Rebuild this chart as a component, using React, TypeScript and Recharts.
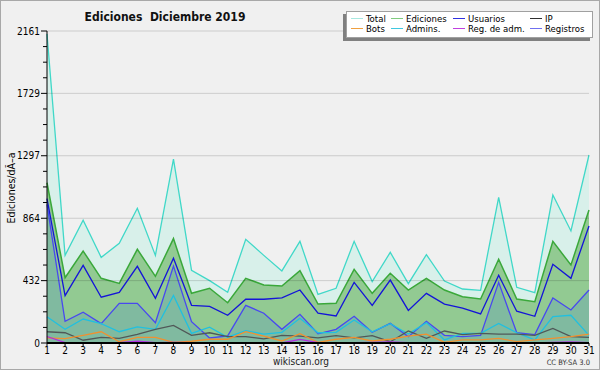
import React from 'react';
import {
  ComposedChart,
  Area,
  Line,
  XAxis,
  YAxis,
  ReferenceLine,
} from 'recharts';

// days of December 2019
const days = [
  1, 2, 3, 4, 5, 6, 7, 8, 9, 10, 11, 12, 13, 14, 15, 16, 17, 18, 19, 20, 21, 22, 23, 24, 25, 26,
  27, 28, 29, 30, 31,
];

const total = [
  2140, 607, 850, 593, 690, 933, 607, 1274, 503, 432, 351, 718, 607, 499, 704, 337, 379, 704, 425,
  628, 411, 612, 429, 374, 365, 1009, 386, 349, 1025, 776, 1302,
];
const ediciones = [
  1110, 452, 637, 448, 413, 649, 462, 723, 344, 379, 279, 448, 402, 395, 501, 270, 275, 510, 344,
  483, 367, 448, 367, 321, 305, 580, 305, 286, 704, 540, 921,
];
const usuarios = [
  1000, 328, 538, 317, 351, 531, 310, 587, 261, 254, 192, 303, 303, 312, 367, 206, 187, 420, 261,
  436, 226, 344, 270, 242, 201, 469, 220, 185, 545, 448, 810,
];
const registros = [
  960, 150, 213, 134, 275, 275, 141, 533, 148, 35, 50, 261, 206, 95, 199, 64, 95, 185, 74, 136, 44,
  150, 53, 44, 53, 420, 71, 58, 312, 229, 367,
];
const admins = [
  182, 95, 166, 134, 78, 111, 95, 330, 67, 110, 40, 85, 62, 74, 171, 71, 74, 159, 78, 134, 62, 141,
  21, 67, 67, 136, 71, 21, 182, 192, 53,
];
const ip = [
  78, 71, 19, 39, 32, 60, 95, 122, 53, 71, 44, 44, 28, 53, 48, 35, 51, 35, 51, 9, 83, 32, 83, 58,
  67, 62, 62, 53, 101, 44, 39,
];
const bots = [
  35, 30, 53, 78, 9, 39, 39, 5, 12, 26, 26, 78, 48, 14, 65, 5, 26, 39, 14, 26, 48, 62, 5, 21, 21, 32,
  9, 21, 32, 44, 62,
];
const regAdm = [
  45, 2, 0, 0, 3, 12, 2, 5, 3, 2, 2, 0, 0, 0, 25, 2, 0, 2, 5, 8, 2, 2, 0, 0, 0, 2, 0, 0, 5, 8, 3,
];

const yMax = 2161;
const yTicks = [
  0, 108, 216, 324, 432, 540, 648, 756, 864, 973, 1081, 1189, 1297, 1405, 1513, 1621, 1729, 1837,
  1945, 2053, 2161,
];
const yMajor = [0, 432, 864, 1297, 1729, 2161];

const legendItems = [
  { name: 'Total', color: '#a8e8e0' },
  { name: 'Ediciones', color: '#80cc80' },
  { name: 'Usuarios', color: '#3030e0' },
  { name: 'IP', color: '#303030' },
  { name: 'Bots', color: '#f0a040' },
  { name: 'Admins.', color: '#40c8e0' },
  { name: 'Reg. de adm.', color: '#c040e0' },
  { name: 'Registros', color: '#7070f0' },
];
const legendCols = [4, 44, 106, 183];

const data = days.map((d, i) => ({
  day: d,
  total: total[i],
  ediciones: ediciones[i],
  usuarios: usuarios[i],
  registros: registros[i],
  admins: admins[i],
  ip: ip[i],
  bots: bots[i],
  regAdm: regAdm[i],
}));

const font = '"DejaVu Sans Condensed", "DejaVu Sans", sans-serif';

function YTick(props: any) {
  const { x, y, payload } = props;
  const major = yMajor.includes(payload.value);
  return (
    <g>
      <line x1={x - (major ? 6 : 4)} x2={x} y1={y} y2={y} stroke="#000" strokeWidth={1} />
      {major && (
        <text x={x - 7} y={y} dy={3.5} textAnchor="end" fontSize={10} fill="#000" fontFamily={font}>
          {payload.value}
        </text>
      )}
    </g>
  );
}

export default function App() {
  return (
    <div
      style={{
        position: 'absolute',
        left: 0,
        top: 0,
        width: 600,
        height: 370,
        background: '#f0f0f0',
        border: '1px solid #a8a8a8',
        boxSizing: 'border-box',
        fontFamily: font,
      }}
    >
      <div
        style={{
          position: 'absolute',
          left: 0,
          width: 328,
          textAlign: 'center',
          fontWeight: 'bold',
          fontSize: 12,
          top: 9,
          color: '#111',
          whiteSpace: 'pre',
        }}
      >
        {'Ediciones  Diciembre 2019'}
      </div>
      <div style={{ position: 'absolute', left: -1, top: -1 }}>
        <ComposedChart
          width={600}
          height={370}
          data={data}
          margin={{ top: 31, right: 11, bottom: 0, left: 0 }}
        >
          <XAxis
            dataKey="day"
            type="number"
            domain={[1, 31]}
            ticks={days}
            interval={0}
            tickSize={3}
            tickMargin={1}
            axisLine={{ stroke: '#000', strokeWidth: 2 }}
            tickLine={{ stroke: '#000' }}
            tick={{ fill: '#000', fontSize: 10, fontFamily: font }}
            height={27}
          />
          <YAxis
            type="number"
            domain={[0, yMax]}
            ticks={yTicks}
            interval={0}
            width={47}
            tickSize={0}
            tickMargin={0}
            tickLine={false}
            axisLine={{ stroke: '#000' }}
            tick={<YTick />}
          />
          <Area
            type="linear"
            dataKey="total"
            stroke="#40d8c8"
            strokeWidth={1.3}
            fill="#d8f0ea"
            fillOpacity={1}
            isAnimationActive={false}
          />
          <Area
            type="linear"
            dataKey="ediciones"
            stroke="#3aa83a"
            strokeWidth={1.5}
            fill="#92ca92"
            fillOpacity={1}
            isAnimationActive={false}
          />
          <Area
            type="linear"
            dataKey="registros"
            stroke="#4848f0"
            strokeWidth={1.3}
            fill="#80baa0"
            fillOpacity={1}
            isAnimationActive={false}
          />
          {yMajor.slice(1).map((v) => (
            <ReferenceLine key={v} y={v} stroke="rgba(0,0,0,0.15)" strokeWidth={1} />
          ))}
          <Line type="linear" dataKey="usuarios" stroke="#1414d8" strokeWidth={1.3} dot={false} isAnimationActive={false} />
          <Line type="linear" dataKey="admins" stroke="#20c0e0" strokeWidth={1.3} dot={false} isAnimationActive={false} />
          <Line type="linear" dataKey="ip" stroke="#505858" strokeWidth={1.3} dot={false} isAnimationActive={false} />
          <Line type="linear" dataKey="bots" stroke="#f09030" strokeWidth={1.3} dot={false} isAnimationActive={false} />
          <Line type="linear" dataKey="regAdm" stroke="#b030e0" strokeWidth={1.3} dot={false} isAnimationActive={false} />
        </ComposedChart>
      </div>
      <div
        style={{
          position: 'absolute',
          left: 10 - 60,
          top: 188 - 7,
          width: 120,
          textAlign: 'center',
          fontSize: 10.5,
          transform: 'rotate(-90deg)',
          color: '#000',
          whiteSpace: 'nowrap',
        }}
      >
        Ediciones/dÃ–a
      </div>
      {/* legend */}
      <div
        style={{
          position: 'absolute',
          left: 342,
          top: 13,
          width: 247,
          height: 27,
          background: '#808080',
        }}
      />
      <div
        style={{
          position: 'absolute',
          left: 345,
          top: 10,
          width: 247,
          height: 27,
          background: '#fff',
          border: '1px solid #a0a0a0',
          boxSizing: 'border-box',
        }}
      >
        {legendItems.map((it, i) => (
          <div
            key={it.name}
            style={{
              position: 'absolute',
              left: legendCols[i % 4],
              top: i < 4 ? 2 : 12,
              height: 9,
              display: 'flex',
              alignItems: 'center',
              fontSize: 9.5,
              lineHeight: '9px',
              color: '#000',
              whiteSpace: 'nowrap',
            }}
          >
            <span style={{ display: 'inline-block', width: 12, height: 1, background: it.color, marginRight: 3 }} />
            {it.name}
          </div>
        ))}
      </div>
      <div
        style={{
          position: 'absolute',
          left: 250,
          width: 100,
          top: 355,
          textAlign: 'center',
          fontSize: 10,
          color: '#222',
        }}
      >
        wikiscan.org
      </div>
      <div
        style={{
          position: 'absolute',
          right: 9,
          top: 357,
          fontSize: 7.5,
          color: '#333',
        }}
      >
        CC BY-SA 3.0
      </div>
    </div>
  );
}
